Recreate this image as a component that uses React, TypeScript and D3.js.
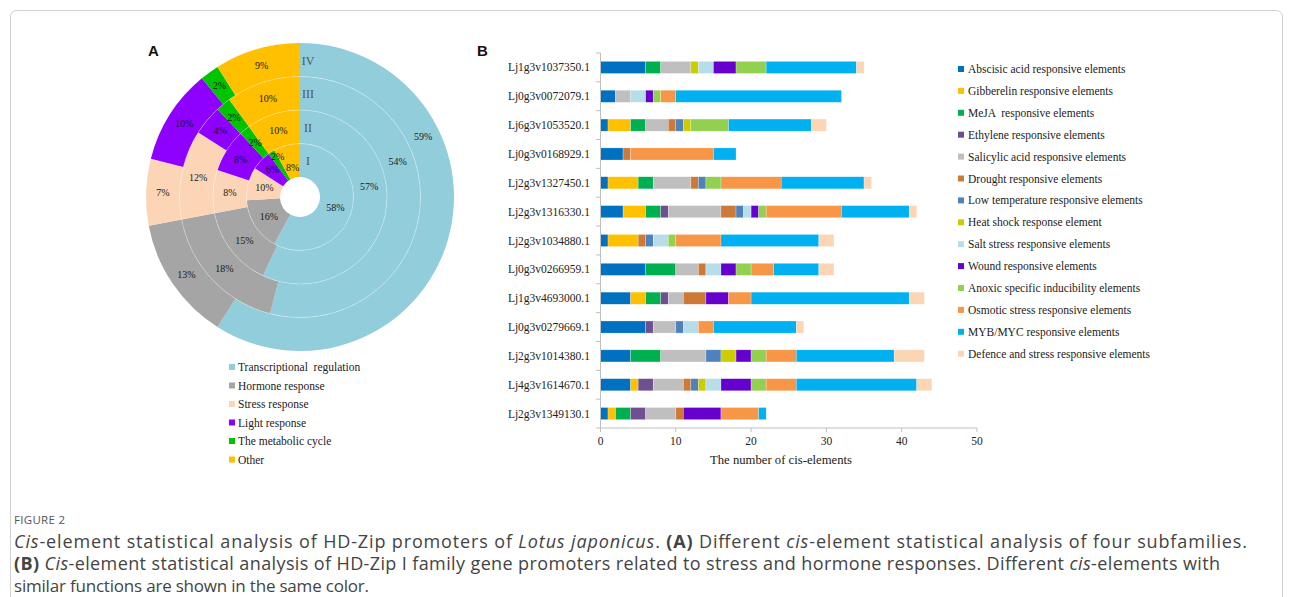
import React from "react";
import * as d3 from "d3";

// ---------- Panel A data (rings I..IV, percentages) ----------
const ringNames = ["I", "II", "III", "IV"];
const groupNames = [
  "Transcriptional  regulation",
  "Hormone response",
  "Stress response",
  "Light response",
  "The metabolic cycle",
  "Other",
];
const transcriptional = [58, 57, 54, 59];
const hormone = [16, 15, 18, 13];
const stress = [10, 8, 12, 7];
const light = [6, 8, 4, 10];
const metabolic = [2, 2, 2, 2];
const other = [8, 10, 10, 9];
const groupColors = ["#92CDDC", "#A5A5A5", "#FBD5B5", "#8E00FF", "#00C400", "#FFC000"];

// ---------- Panel B data ----------
const genes = [
  "Lj1g3v1037350.1",
  "Lj0g3v0072079.1",
  "Lj6g3v1053520.1",
  "Lj0g3v0168929.1",
  "Lj2g3v1327450.1",
  "Lj2g3v1316330.1",
  "Lj2g3v1034880.1",
  "Lj0g3v0266959.1",
  "Lj1g3v4693000.1",
  "Lj0g3v0279669.1",
  "Lj2g3v1014380.1",
  "Lj4g3v1614670.1",
  "Lj2g3v1349130.1",
];
const elementNames = [
  "Abscisic acid responsive elements",
  "Gibberelin responsive elements",
  "MeJA  responsive elements",
  "Ethylene responsive elements",
  "Salicylic acid responsive elements",
  "Drought responsive elements",
  "Low temperature responsive elements",
  "Heat shock response element",
  "Salt stress responsive elements",
  "Wound responsive elements",
  "Anoxic specific inducibility elements",
  "Osmotic stress responsive elements",
  "MYB/MYC responsive elements",
  "Defence and stress responsive elements",
];
const abscisic = [6, 2, 1, 3, 1, 3, 1, 6, 4, 6, 4, 4, 1];
const gibberelin = [0, 0, 3, 0, 4, 3, 4, 0, 2, 0, 0, 1, 1];
const meja = [2, 0, 2, 0, 2, 2, 0, 4, 2, 0, 4, 0, 2];
const ethylene = [0, 0, 0, 0, 0, 1, 0, 0, 1, 1, 0, 2, 2];
const salicylic = [4, 2, 3, 0, 5, 7, 0, 3, 2, 3, 6, 4, 4];
const drought = [0, 0, 1, 1, 1, 2, 1, 1, 3, 0, 0, 1, 1];
const lowTemp = [0, 0, 1, 0, 1, 1, 1, 0, 0, 1, 2, 1, 0];
const heatShock = [1, 0, 1, 0, 0, 0, 0, 0, 0, 0, 2, 1, 0];
const saltStress = [2, 2, 0, 0, 0, 1, 2, 2, 0, 2, 0, 2, 0];
const wound = [3, 1, 0, 0, 0, 1, 0, 2, 3, 0, 2, 4, 5];
const anoxic = [4, 1, 5, 0, 2, 1, 1, 2, 0, 0, 2, 2, 0];
const osmotic = [0, 2, 0, 11, 8, 10, 6, 3, 3, 2, 4, 4, 5];
const mybMyc = [12, 22, 11, 3, 11, 9, 13, 6, 21, 11, 13, 16, 1];
const defence = [1, 0, 2, 0, 1, 1, 2, 2, 2, 1, 4, 2, 0];
const xTicks = [0, 10, 20, 30, 40, 50];
const elementColors = [
  "#0070C0", "#FFC000", "#00B050", "#6E5090", "#BFBFBF", "#CD7A38", "#4F81BD",
  "#CCCC00", "#B7DEE8", "#6600CC", "#92D050", "#F79646", "#00B0F0", "#FCD5B5",
];

const serif = "'Liberation Serif', 'Times New Roman', serif";

// label placement tweaks: "ring-group" -> [angle in degrees, radius]
const labelPlacement: Record<string, [number, number]> = {
  "0-0": [106, 36.75],
  "1-0": [81, 70],
  "2-0": [70, 104],
  "3-0": [64, 137],
  "0-4": [331, 46],
  "0-5": [346, 30],
  "0-3": [315, 39],
};

function PanelA() {
  const cx = 300, cy = 197;
  const r0 = 20, rOuter = 154;
  const groups = [transcriptional, hormone, stress, light, metabolic, other];
  const radius = d3.scaleLinear().domain([0, ringNames.length]).range([r0, rOuter]);
  const pie = d3.pie<number>().sort(null).value((d) => d).startAngle(0).endAngle(2 * Math.PI);
  const arcs: JSX.Element[] = [];
  const labels: JSX.Element[] = [];
  ringNames.forEach((rn, ri) => {
    const vals = groups.map((g) => g[ri]);
    const inner = radius(ri), outer = radius(ri + 1);
    const arc = d3.arc<any>().innerRadius(inner).outerRadius(outer);
    pie(vals).forEach((p, gi) => {
      arcs.push(<path key={`a${ri}-${gi}`} d={arc(p) || ""} fill={groupColors[gi]} />);
      let [lx, ly] = arc.centroid(p);
      const pl = labelPlacement[`${ri}-${gi}`];
      if (pl) {
        const a = (pl[0] * Math.PI) / 180;
        lx = pl[1] * Math.sin(a);
        ly = -pl[1] * Math.cos(a);
      }
      labels.push(
        <text key={`l${ri}-${gi}`} x={lx} y={ly} textAnchor="middle" dominantBaseline="central"
          fontSize={10} fontFamily={serif} fill="#1a1a1a">{`${p.data}%`}</text>
      );
    });
  });
  const ringLines = d3.range(1, ringNames.length).map((i) => (
    <circle key={`c${i}`} r={radius(i)} fill="none" stroke="#ffffff" strokeOpacity={0.35} strokeWidth={0.8} />
  ));
  const romans = ringNames.map((rn, i) => (
    <text key={rn} x={8} y={-(radius(i) + radius(i + 1)) / 2 + 1} textAnchor="middle" dominantBaseline="central"
      fontSize={12} fontFamily={serif} fill="#555">{rn}</text>
  ));
  return (
    <g>
      <g transform={`translate(${cx},${cy})`}>
        {arcs}
        {ringLines}
        {labels}
        {romans}
      </g>
      <text x={148} y={56} fontSize={15} fontWeight="bold" fontFamily="Arial, 'Liberation Sans', sans-serif" fill="#111">A</text>
      {groupNames.map((g, i) => (
        <g key={g} transform={`translate(229,${367 + i * 18.5})`}>
          <rect x={0} y={-3} width={6} height={6} fill={groupColors[i]} />
          <text x={9} y={0} dominantBaseline="central" fontSize={11.5} fontFamily={serif} fill="#222" style={{ whiteSpace: "pre" }}>{g}</text>
        </g>
      ))}
    </g>
  );
}

function PanelB() {
  const series = [abscisic, gibberelin, meja, ethylene, salicylic, drought, lowTemp, heatShock,
    saltStress, wound, anoxic, osmotic, mybMyc, defence];
  const rows = genes.map((g, i) => {
    const o: any = { gene: g };
    elementNames.forEach((e, k) => (o[e] = series[k][i]));
    return o;
  });
  const stack = d3.stack<any>().keys(elementNames);
  const stacked = stack(rows);
  const x = d3.scaleLinear().domain([0, 50]).range([600.5, 977]);
  const y = d3.scaleBand<string>().domain(genes).range([53, 428]).paddingInner(0.58).paddingOuter(0.29);
  const step = y.step();
  const top = 53, bottom = 428;
  return (
    <g>
      <text x={477} y={56} fontSize={15} fontWeight="bold" fontFamily="Arial, 'Liberation Sans', sans-serif" fill="#111">B</text>
      {stacked.map((s, k) => (
        <g key={s.key} fill={elementColors[k]}>
          {s.map((d, i) =>
            d[1] - d[0] > 0 ? (
              <rect key={i} x={x(d[0])} y={y(genes[i])!} width={x(d[1]) - x(d[0])} height={y.bandwidth()}
                stroke="#ffffff" strokeOpacity={0.5} strokeWidth={0.5} />
            ) : null
          )}
        </g>
      ))}
      {/* y axis */}
      <line x1={600.5} x2={600.5} y1={top} y2={bottom} stroke="#BFBFBF" />
      {d3.range(genes.length + 1).map((i) => (
        <line key={i} x1={596} x2={600.5} y1={top + i * step} y2={top + i * step} stroke="#BFBFBF" />
      ))}
      {genes.map((g) => (
        <text key={g} x={590} y={y(g)! + y.bandwidth() / 2} textAnchor="end" dominantBaseline="central"
          fontSize={11.5} fontFamily={serif} fill="#222">{g}</text>
      ))}
      {/* x axis */}
      <line x1={600.5} x2={977} y1={bottom} y2={bottom} stroke="#BFBFBF" />
      {xTicks.map((t) => (
        <g key={t}>
          <line x1={x(t)} x2={x(t)} y1={bottom} y2={bottom + 4} stroke="#BFBFBF" />
          <text x={x(t)} y={bottom + 13} textAnchor="middle" dominantBaseline="central" fontSize={11.5}
            fontFamily={serif} fill="#222">{t}</text>
        </g>
      ))}
      <text x={781} y={460} textAnchor="middle" dominantBaseline="central" fontSize={12.7} fontFamily={serif} fill="#222">
        The number of cis-elements
      </text>
      {elementNames.map((e, k) => (
        <g key={e} transform={`translate(958,${69 + k * 21.9})`}>
          <rect x={0} y={-3} width={6} height={6} fill={elementColors[k]} />
          <text x={10} y={0} dominantBaseline="central" fontSize={11.5} fontFamily={serif} fill="#222" style={{ whiteSpace: "pre" }}>{e}</text>
        </g>
      ))}
    </g>
  );
}

export default function App() {
  const capFont = "'Open Sans', 'Noto Sans', sans-serif";
  return (
    <svg width={1293} height={597} style={{ position: "absolute", left: 0, top: 0, background: "#fff" }}>
      <rect x={10.5} y={10.5} width={1272} height={620} rx={6} fill="none" stroke="#D0D0D0" />
      <PanelA />
      <PanelB />
      <text x={14} y={519} dominantBaseline="central" fontSize={11.5} fontFamily={capFont} fill="#555" letterSpacing={0.3}>FIGURE 2</text>
      <text x={14} y={541} dominantBaseline="central" fontSize={18} fontFamily={capFont} fill="#444"
        textLength={1233} lengthAdjust="spacing">
        <tspan fontStyle="italic">Cis</tspan>-element statistical analysis of HD-Zip promoters of <tspan fontStyle="italic">Lotus japonicus</tspan>. <tspan fontWeight="bold">(A)</tspan> Different <tspan fontStyle="italic">cis</tspan>-element statistical analysis of four subfamilies.
      </text>
      <text x={14} y={563} dominantBaseline="central" fontSize={18} fontFamily={capFont} fill="#444"
        textLength={1206} lengthAdjust="spacing">
        <tspan fontWeight="bold">(B)</tspan> <tspan fontStyle="italic">Cis</tspan>-element statistical analysis of HD-Zip I family gene promoters related to stress and hormone responses. Different <tspan fontStyle="italic">cis</tspan>-elements with
      </text>
      <text x={14} y={585} dominantBaseline="central" fontSize={17} fontFamily={capFont} fill="#444"
        textLength={355} lengthAdjust="spacing">
        similar functions are shown in the same color.
      </text>
    </svg>
  );
}
